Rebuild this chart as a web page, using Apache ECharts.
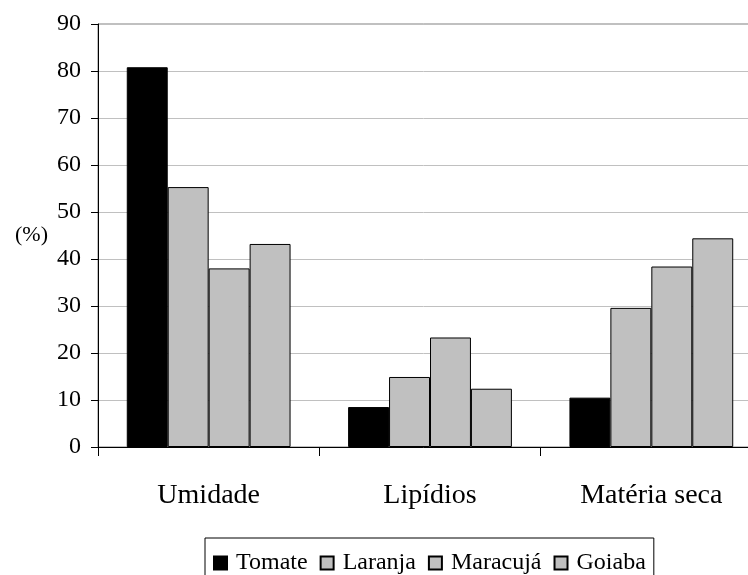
<!DOCTYPE html>
<html>
<head>
<meta charset="utf-8">
<script src="https://cdn.jsdelivr.net/npm/echarts@6/dist/echarts.min.js"></script>
<style>
html,body{margin:0;padding:0;background:#fff;}
#chart{width:748px;height:575px;}
</style>
</head>
<body>
<div id="chart"></div>
<script>
var categories = ['Umidade', 'Lipídios', 'Matéria seca'];
var seriesNames = ['Tomate', 'Laranja', 'Maracujá', 'Goiaba'];
var tomate = [80.8, 8.5, 10.5];
var laranja = [55.3, 14.9, 29.6];
var maracuja = [38.0, 23.3, 38.4];
var goiaba = [43.2, 12.4, 44.4];
var yTicks = [0, 10, 20, 30, 40, 50, 60, 70, 80, 90];

var colors = ['#000000', '#c0c0c0', '#c0c0c0', '#c0c0c0'];
var values = [tomate, laranja, maracuja, goiaba];
var font = '"Liberation Serif", "Times New Roman", serif';

var chart = echarts.init(document.getElementById('chart'), null, {renderer: 'canvas'});
var series = seriesNames.map(function (n, i) {
  return {
    name: n,
    type: 'bar',
    data: values[i],
    barGap: '0%',
    barCategoryGap: '26%',
    itemStyle: {color: colors[i], borderColor: '#000', borderWidth: 1},
    emphasis: {disabled: true}
  };
});

chart.setOption({
  animation: false,
  backgroundColor: '#ffffff',
  grid: {
    left: 98, top: 24, width: 664, height: 423,
    outerBoundsMode: 'none',
    containLabel: false,
    show: true, borderColor: '#808080', borderWidth: 1, backgroundColor: 'transparent'
  },
  legend: {
    left: 205, top: 538,
    padding: [13, 8, 12, 8],
    borderColor: '#000', borderWidth: 1,
    itemWidth: 13, itemHeight: 13, itemGap: 12,
    icon: 'rect',
    data: seriesNames,
    textStyle: {fontFamily: font, fontSize: 24, color: '#000', padding: [0, 0, 0, 4]}
  },
  xAxis: {
    type: 'category',
    data: categories,
    boundaryGap: true,
    axisLine: {lineStyle: {color: '#000', width: 1}},
    axisTick: {show: true, length: 9, lineStyle: {color: '#000'}},
    axisLabel: {fontFamily: font, fontSize: 28, color: '#000', margin: 35},
    splitLine: {show: false}
  },
  yAxis: {
    type: 'value',
    min: yTicks[0], max: yTicks[yTicks.length - 1], interval: 10,
    name: '(%)',
    nameLocation: 'middle',
    nameRotate: 0,
    nameGap: 50,
    nameTextStyle: {fontFamily: font, fontSize: 22, color: '#000'},
    axisLine: {show: true, lineStyle: {color: '#000', width: 1}},
    axisTick: {show: true, length: 7, lineStyle: {color: '#000'}},
    axisLabel: {fontFamily: font, fontSize: 24, color: '#000', margin: 17},
    splitLine: {show: true, lineStyle: {color: '#c0c0c0', width: 1}}
  },
  series: series
});
</script>
</body>
</html>
